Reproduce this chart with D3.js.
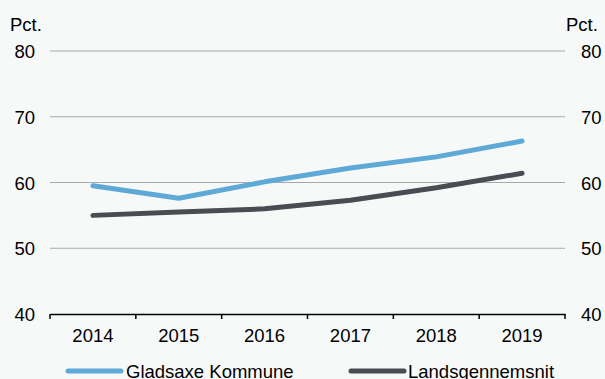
<!DOCTYPE html>
<html><head><meta charset="utf-8">
<script src="https://cdn.jsdelivr.net/npm/d3@7"></script>
<style>
html,body{margin:0;padding:0;background:#f7f9f9;}
svg{display:block;font-family:"Liberation Sans",Arial,sans-serif;}
</style></head>
<body><svg id="c" width="605" height="379"></svg>
<script>
const years = ["2014","2015","2016","2017","2018","2019"];
const gladsaxe = [59.5, 57.6, 60.1, 62.2, 63.9, 66.3];
const lands = [55.0, 55.5, 56.0, 57.3, 59.2, 61.4];
const yTicks = [40, 50, 60, 70, 80];
const seriesNames = ["Gladsaxe Kommune", "Landsgennemsnit"];
const colors = ["#5fa9d6", "#4b4b52"];
const FS = 18.5;

const svg = d3.select("#c");
const x = d3.scaleBand().domain(years).range([50, 565]);
const y = d3.scaleLinear().domain([40, 80]).range([314, 51]);

// gridlines
svg.append("g").selectAll("line").data(yTicks.filter(d => d > 40)).join("line")
  .attr("x1", 50).attr("x2", 565)
  .attr("y1", d => y(d)).attr("y2", d => y(d))
  .attr("stroke", "#a9a9a9").attr("stroke-width", 1);

// y labels both sides
svg.append("g").selectAll("text").data(yTicks).join("text")
  .attr("x", 35).attr("y", d => y(d) + 7)
  .attr("text-anchor", "end").attr("font-size", FS).attr("fill", "#000")
  .text(d => d);
svg.append("g").selectAll("text").data(yTicks).join("text")
  .attr("x", 581).attr("y", d => y(d) + 7)
  .attr("text-anchor", "start").attr("font-size", FS).attr("fill", "#000")
  .text(d => d);
svg.append("text").attr("x", 10).attr("y", 30.5).attr("font-size", FS).text("Pct.");
svg.append("text").attr("x", 566).attr("y", 30.5).attr("font-size", FS).text("Pct.");

// x axis
const xAxis = d3.axisBottom(x).tickSize(0).tickSizeOuter(0);
const gx = svg.append("g").attr("transform", "translate(0,314)").call(xAxis);
gx.select(".domain").attr("stroke", "#000").attr("stroke-width", 1.5);
gx.selectAll("text").attr("font-size", FS).attr("fill", "#000")
  .attr("y", 0).attr("dy", 0).attr("transform", "translate(0,27.5)")
  .style("font-family", "Liberation Sans, Arial, sans-serif");
// band boundary ticks
const bounds = years.map(d => x(d)).concat([x.range()[1]]);
svg.append("g").selectAll("line").data(bounds).join("line")
  .attr("x1", d => d).attr("x2", d => d).attr("y1", 314).attr("y2", 319)
  .attr("stroke", "#000").attr("stroke-width", 1.5);

// lines
const line = d3.line().x((d, i) => x(years[i]) + x.bandwidth() / 2).y(d => y(d));
[gladsaxe, lands].forEach((s, i) => {
  svg.append("path").datum(s).attr("d", line)
    .attr("fill", "none").attr("stroke", colors[i]).attr("stroke-width", 5)
    .attr("stroke-linecap", "round").attr("stroke-linejoin", "round");
});

// legend
const leg = [{x: 68, tx: 126}, {x: 351, tx: 408}];
seriesNames.forEach((n, i) => {
  svg.append("line").attr("x1", leg[i].x).attr("x2", leg[i].x + 53)
    .attr("y1", 371).attr("y2", 371).attr("stroke", colors[i]).attr("stroke-width", 5)
    .attr("stroke-linecap", "round");
  svg.append("text").attr("x", leg[i].tx).attr("y", 378).attr("font-size", FS).text(n);
});
</script></body></html>
